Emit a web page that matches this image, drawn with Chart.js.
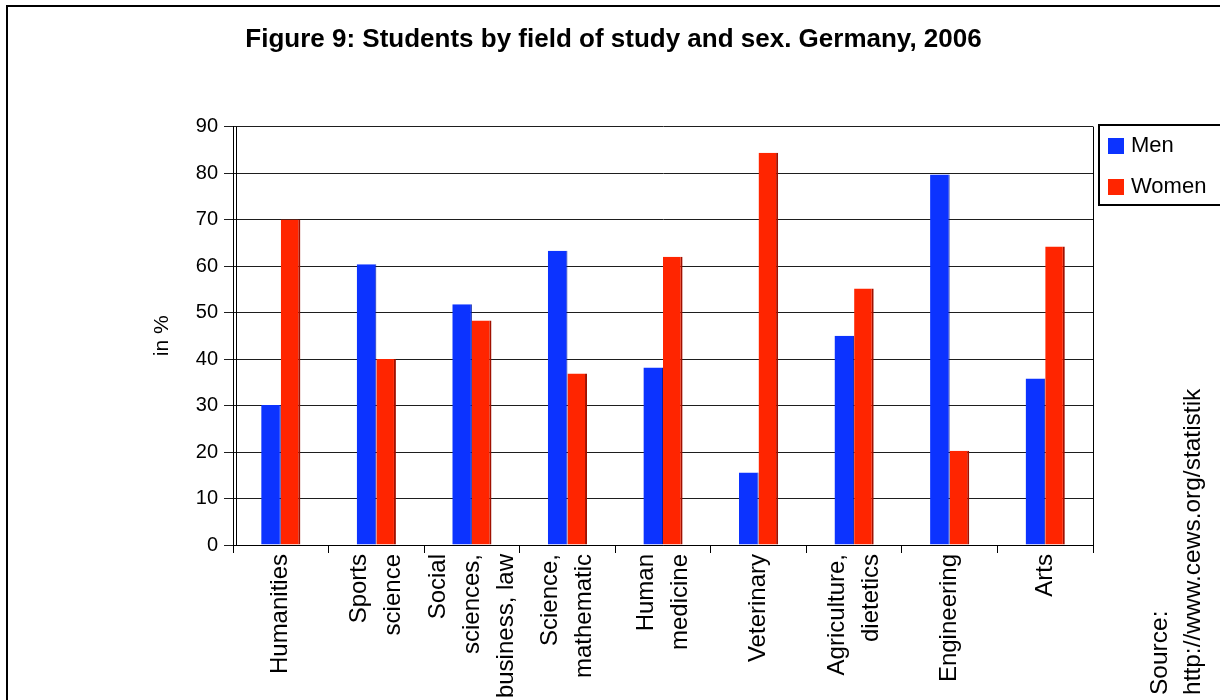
<!DOCTYPE html>
<html><head><meta charset="utf-8">
<script src="https://cdn.jsdelivr.net/npm/chart.js@4.4.0/dist/chart.umd.min.js"></script>
<style>html,body{margin:0;padding:0;background:#fff;overflow:hidden}#wrap{width:1220px;height:700px;position:relative}</style>
</head><body><div id="wrap"><canvas id="c" width="1220" height="700"></canvas></div>
<script>
const categories = [['Humanities'], ['Sports', 'science'], ['Social', 'sciences,', 'business, law'], ['Science,', 'mathematic'], ['Human', 'medicine'], ['Veterinary'], ['Agriculture,', 'dietetics'], ['Engineering'], ['Arts']];
const menValues = [30.1, 60.4, 51.8, 63.3, 38.2, 15.6, 45.0, 79.7, 35.8];
const womenValues = [70.0, 40.0, 48.3, 36.9, 62.0, 84.4, 55.2, 20.3, 64.2];
const yTicks = [0, 10, 20, 30, 40, 50, 60, 70, 80, 90];
const seriesNames = ['Men', 'Women'];
const titleText = 'Figure 9: Students by field of study and sex. Germany, 2006';
const yAxisTitle = 'in %';
const sourceLines = ['Source:', 'http://www.cews.org/statistik'];

const FAM = '"Liberation Sans", Arial, sans-serif';

const decor = {
  id: 'decor',
  beforeDraw(chart) {
    const ctx = chart.ctx;
    ctx.save();
    ctx.fillStyle = '#fff';
    ctx.fillRect(0, 0, chart.width, chart.height);
    ctx.restore();
  },
  afterDraw(chart) {
    const ctx = chart.ctx;
    const a = chart.chartArea;
    ctx.save();
    // outer frame
    ctx.fillStyle = '#000';
    ctx.fillRect(6, 5, 2, chart.height);
    ctx.fillRect(6, 5, chart.width, 2);
    // plot border right + second y line
    ctx.strokeStyle = '#000';
    ctx.lineWidth = 1;
    ctx.beginPath();
    ctx.moveTo(Math.round(a.right) + 0.5, a.top);
    ctx.lineTo(Math.round(a.right) + 0.5, a.bottom);
    ctx.moveTo(Math.round(a.left) + 3.5, a.top);
    ctx.lineTo(Math.round(a.left) + 3.5, a.bottom);
    ctx.stroke();
    // x labels
    const xs = chart.scales.x;
    ctx.font = '24px ' + FAM;
    ctx.fillStyle = '#000';
    const lh = 34;
    chart.data.labels.forEach((lines, i) => {
      const cx = xs.getPixelForTick(i);
      const n = lines.length;
      ctx.save();
      ctx.translate(cx - (n - 1) * lh / 2, xs.top + 9);
      ctx.rotate(-Math.PI / 2);
      ctx.textAlign = 'right';
      ctx.textBaseline = 'middle';
      lines.forEach((t, j) => ctx.fillText(t, 0, j * lh));
      ctx.restore();
    });
    // source
    ctx.save();
    ctx.font = '24.5px ' + FAM;
    ctx.translate(1160, 695);
    ctx.rotate(-Math.PI / 2);
    ctx.textAlign = 'left';
    ctx.textBaseline = 'middle';
    sourceLines.forEach((t, j) => ctx.fillText(t, 0, j * 33));
    ctx.restore();
    // legend
    ctx.lineWidth = 2;
    ctx.strokeStyle = '#000';
    ctx.strokeRect(1099, 125, 140, 80);
    ctx.font = '22px ' + FAM;
    ctx.textAlign = 'left';
    ctx.textBaseline = 'middle';
    chart.data.datasets.forEach((ds, i) => {
      const y = 146 + i * 41;
      ctx.fillStyle = ds.backgroundColor;
      ctx.fillRect(1108, y - 8, 16, 16);
      ctx.fillStyle = '#000';
      ctx.fillText(ds.label, 1131, y);
    });
    ctx.restore();
  }
};

new Chart(document.getElementById('c'), {
  type: 'bar',
  data: {
    labels: categories,
    datasets: [
      { label: seriesNames[0], data: menValues, backgroundColor: '#0c33ff', borderColor: '#0a20a0', borderWidth: { top: 0, left: 0, bottom: 0, right: 1 }, borderSkipped: false },
      { label: seriesNames[1], data: womenValues, backgroundColor: '#ff2500', borderColor: '#a01000', borderWidth: { top: 0, left: 0, bottom: 0, right: 2 }, borderSkipped: false }
    ]
  },
  options: {
    responsive: false,
    animation: false,
    devicePixelRatio: 1,
    layout: { padding: { left: 134, right: 127, top: 0, bottom: 0 } },
    datasets: { bar: { categoryPercentage: 0.41, barPercentage: 1.0 } },
    plugins: {
      legend: { display: false },
      tooltip: { enabled: false },
      title: {
        display: true, text: titleText, color: '#000',
        font: { family: FAM, size: 26, weight: 'bold', lineHeight: 1.2 },
        padding: { top: 24.5, bottom: 70.9 }
      }
    },
    scales: {
      x: {
        offset: true,
        grid: { offset: true, drawOnChartArea: false, drawTicks: true, tickLength: 8, color: '#000', lineWidth: 1 },
        border: { display: true, color: '#000', width: 1 },
        ticks: { display: false },
        afterFit: s => { s.height = 155; }
      },
      y: {
        min: 0, max: 90,
        afterBuildTicks: s => { s.ticks = yTicks.map(v => ({ value: v })); },
        ticks: { font: { family: FAM, size: 20 }, color: '#000', padding: 6 },
        grid: { color: '#1e1e1e', lineWidth: 1, tickLength: 9, drawTicks: true },
        border: { display: true, color: '#000', width: 1 },
        title: { display: true, text: yAxisTitle, color: '#000', font: { family: FAM, size: 21, lineHeight: 1.2 }, padding: { top: 16, bottom: 0 } },
        afterFit: s => { s.width = 99; }
      }
    }
  },
  plugins: [decor]
});
</script>
</body></html>
